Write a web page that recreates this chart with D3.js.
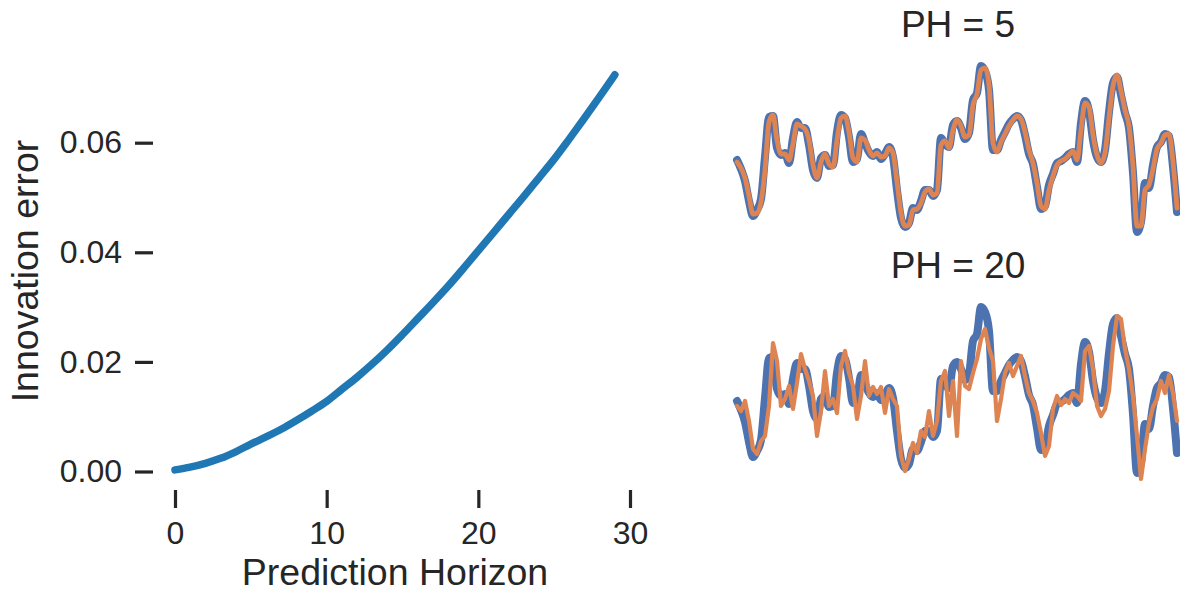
<!DOCTYPE html>
<meta charset="utf-8">
<script src="https://d3js.org/d3.v7.min.js"></script>
<style>
  body { margin: 0; background: #fff; }
  text { font-family: "Liberation Sans", Arial, sans-serif; fill: #262626; }
</style>
<body>
<svg id="chart" width="1180" height="593"></svg>
<script>
// innovation error per prediction horizon (0..29)
const horizon = d3.range(0, 30);
const innovError = [0.0003, 0.0008, 0.0015, 0.0024, 0.0036, 0.0050, 0.0063, 0.0077, 0.0093, 0.0110,
  0.0128, 0.0150, 0.0172, 0.0196, 0.0222, 0.0250, 0.0279, 0.0308, 0.0338, 0.0370,
  0.0403, 0.0436, 0.0469, 0.0502, 0.0536, 0.0570, 0.0607, 0.0645, 0.0684, 0.0724];
const xTicks = [0, 10, 20, 30];
const yTicks = [0, 0.02, 0.04, 0.06];

// measured signal (blue) and predictions (orange), arbitrary units
const truth = [80, 71, 59, 39, 24, 30, 41, 83, 123, 124, 92, 85, 87, 77, 102, 118, 112, 112, 95, 70,
  62, 82, 85, 74, 75, 108, 125, 122, 103, 78, 81, 106, 97, 88, 84, 88, 81, 86, 93, 83,
  50, 22, 13, 17, 32, 30, 39, 50, 50, 44, 50, 102, 96, 93, 115, 119, 112, 101, 107, 140,
  147, 174, 169, 150, 90, 90, 100, 108, 116, 121, 124, 120, 105, 86, 76, 53, 31, 34, 55, 66,
  77, 79, 82, 86, 88, 78, 117, 139, 129, 100, 83, 78, 90, 128, 157, 163, 145, 127, 112, 67,
  8, 18, 57, 52, 75, 93, 98, 106, 104, 73, 28];
const predPH5 = [78, 72, 62, 44, 26, 27, 38, 70, 118, 125, 100, 86, 86, 80, 96, 116, 114, 111, 100, 75,
  62, 78, 86, 76, 73, 100, 122, 124, 108, 82, 78, 102, 100, 90, 84, 87, 83, 84, 92, 87,
  58, 27, 14, 15, 30, 31, 37, 48, 51, 45, 47, 95, 99, 92, 110, 120, 114, 103, 105, 135,
  146, 170, 172, 155, 97, 88, 98, 106, 114, 120, 124, 121, 108, 90, 77, 57, 34, 31, 50, 64,
  75, 79, 81, 85, 89, 80, 110, 137, 133, 105, 85, 77, 87, 122, 154, 165, 149, 130, 114, 74,
  14, 14, 50, 55, 71, 91, 97, 105, 106, 78, 32];
const predPH20 = [75, 70, 80, 60, 32, 27, 40, 45, 75, 138, 120, 75, 82, 95, 72, 98, 127, 112, 100, 85,
  45, 70, 110, 75, 82, 68, 115, 130, 108, 95, 62, 85, 120, 85, 94, 87, 94, 68, 92, 82,
  75, 25, 10, 22, 38, 28, 50, 44, 70, 45, 60, 100, 110, 65, 100, 45, 120, 95, 92, 108,
  122, 142, 152, 133, 120, 60, 82, 108, 118, 105, 115, 125, 105, 88, 80, 68, 48, 25, 35, 72,
  85, 76, 82, 78, 88, 85, 80, 130, 135, 112, 75, 65, 72, 90, 135, 165, 162, 132, 112, 85,
  45, 2, 32, 58, 74, 82, 100, 88, 106, 88, 60];

const svg = d3.select("#chart");
const ink = "#262626";

// ---- left: innovation error vs horizon
const x = d3.scaleLinear().domain([0, 30]).range([175, 630]);
const y = d3.scaleLinear().domain([0, 0.06]).range([471.5, 142.7]);

const gx = svg.append("g")
    .attr("transform", "translate(0,490)")
    .call(d3.axisBottom(x).tickValues(xTicks).tickSize(18).tickPadding(13).tickFormat(d3.format("d")));
const gy = svg.append("g")
    .attr("transform", "translate(153,0)")
    .call(d3.axisLeft(y).tickValues(yTicks).tickSize(18).tickPadding(13).tickFormat(d3.format(".2f")));

[gx, gy].forEach(g => {
  g.select(".domain").remove();
  g.selectAll(".tick line").attr("stroke", ink).attr("stroke-width", 3.2);
  g.selectAll(".tick text").attr("fill", ink).style("font-size", "32px")
    .style("font-family", "'Liberation Sans', Arial, sans-serif");
});

svg.append("path")
    .datum(horizon)
    .attr("fill", "none")
    .attr("stroke", "#1f77b4")
    .attr("stroke-width", 7.5)
    .attr("stroke-linecap", "round")
    .attr("stroke-linejoin", "round")
    .attr("d", d3.line().curve(d3.curveMonotoneX).x(d => x(d)).y(d => y(innovError[d])));

svg.append("text")
    .attr("x", 395).attr("y", 585)
    .attr("text-anchor", "middle")
    .style("font-size", "37.5px")
    .text("Prediction Horizon");

svg.append("text")
    .attr("transform", "translate(38,271) rotate(-90)")
    .attr("text-anchor", "middle")
    .style("font-size", "37.5px")
    .text("Innovation error");

// ---- right: signal vs predictions
const xt = d3.scaleLinear().domain([0, truth.length - 1]).range([737, 1177]);

function panel(pred, top, title, orangeWidth, orangeCurve) {
  const yt = d3.scaleLinear().domain([0, 175]).range([top + 175, top]);
  const smooth = d3.line().curve(d3.curveMonotoneX).x((d, i) => xt(i)).y(d => yt(d));
  const g = svg.append("g");
  g.append("path").datum(truth)
      .attr("fill", "none").attr("stroke", "#4c72b0").attr("stroke-width", 8)
      .attr("stroke-linejoin", "round").attr("stroke-linecap", "round")
      .attr("d", smooth);
  g.append("path").datum(pred)
      .attr("fill", "none").attr("stroke", "#dd8452").attr("stroke-width", orangeWidth)
      .attr("stroke-linejoin", "round").attr("stroke-linecap", "round")
      .attr("d", d3.line().curve(orangeCurve).x((d, i) => xt(i)).y(d => yt(d)));
  g.append("text")
      .attr("x", 958).attr("y", top - 28)
      .attr("text-anchor", "middle")
      .style("font-size", "37px")
      .text(title);
}

panel(predPH5, 65, "PH = 5", 4.8, d3.curveMonotoneX);
panel(predPH20, 306, "PH = 20", 4.2, d3.curveLinear);
</script>
</body>
